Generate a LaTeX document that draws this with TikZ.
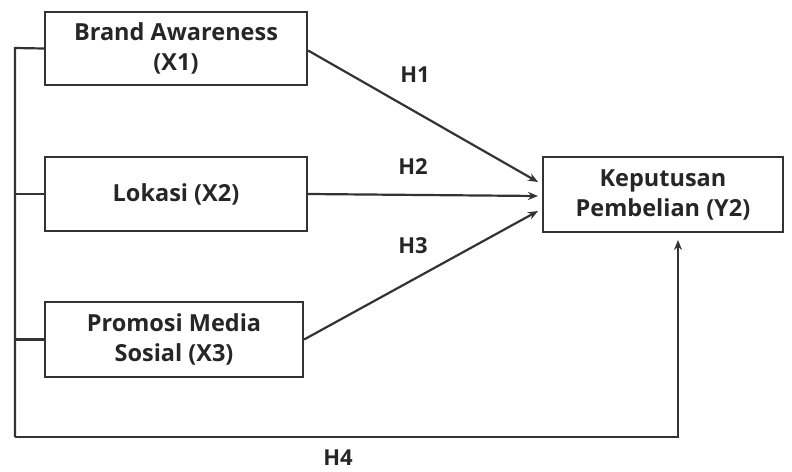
\documentclass[tikz,border=0pt]{standalone}
\usepackage{fontspec}
\setmainfont{Open Sans}
\usetikzlibrary{arrows.meta}
\begin{document}
\begin{tikzpicture}[x=1pt,y=-1pt,
  box/.style={draw=black!80,line width=2.2pt,inner sep=0pt,align=center,font=\bfseries\fontsize{23.5}{30}\selectfont,text=black!85},
  conn/.style={draw=black!80,line width=2.2pt},
  arr/.style={conn,-{Stealth[length=10pt,width=8pt]}},
  lab/.style={font=\bfseries\fontsize{22}{26}\selectfont,text=black!85,inner sep=0pt}]
\useasboundingbox (0,0) rectangle (792,471);
\node[box,minimum width=262pt,minimum height=73pt] (x1) at (176,48.5) {Brand Awareness\\(X1)};
\node[box,minimum width=262pt,minimum height=74pt] (x2) at (176,194) {Lokasi (X2)};
\node[box,minimum width=258pt,minimum height=75pt] (x3) at (174,339.5) {Promosi Media\\Sosial (X3)};
\node[box,minimum width=240pt,minimum height=75pt] (y) at (663,194.5) {Keputusan\\Pembelian (Y2)};
\coordinate (ya) at (538,182);
\coordinate (yb) at (538,196);
\coordinate (yc) at (538,211);
\coordinate (c1) at (15,48);
\coordinate (c4) at (15,437);
\coordinate (c5) at (678,437);
\coordinate (yt) at (678,240);
\draw[arr] (x1.east) ++(0,2) -- (ya);
\draw[arr] (x2.east) -- (yb);
\draw[arr] (x3.east) -- (yc);
\draw[conn] (x1.west) -- (c1) -- (c4);
\draw[conn] (x2.west) -- (x2.west -| c1);
\draw[conn] (x3.west) -- (x3.west -| c1);
\draw[arr] (c4) -- (c5) -- (yt);
\node[lab] (h1) at (415,75) {H1};
\node[lab] (h2) at (413,167) {H2};
\node[lab] (h3) at (413,246) {H3};
\node[lab] (h4) at (338,458) {H4};
\end{tikzpicture}
\end{document}
